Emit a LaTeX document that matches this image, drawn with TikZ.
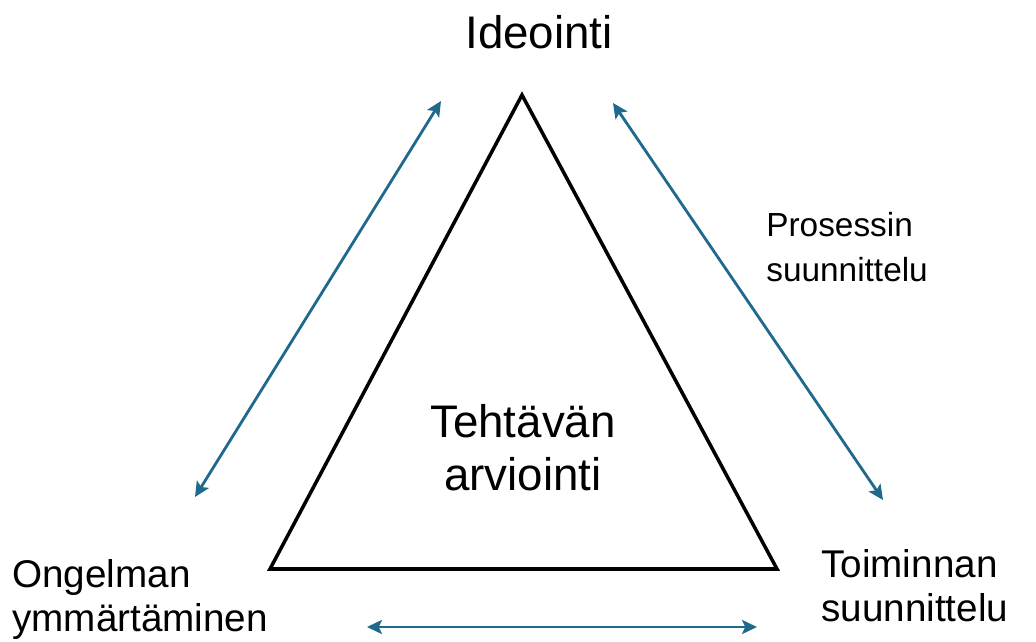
\documentclass[tikz,border=0pt]{standalone}
\usepackage{fontspec}
\setmainfont{Liberation Sans}
\usetikzlibrary{arrows.meta}
\definecolor{arrowblue}{RGB}{31,106,140}

\begin{document}
\begin{tikzpicture}[x=0.02cm, y=-0.02cm,
		tri/.style={line width=2pt},
		twoway/.style={arrowblue, line width=1.6pt, {Stealth[length=8.5pt, width=8pt, inset=1.8pt]}-{Stealth[length=8.5pt, width=8pt, inset=1.8pt]}},
		bigtext/.style={font=\fontsize{26}{30}\selectfont, inner sep=0pt},
		midtext/.style={font=\fontsize{22}{25}\selectfont, inner sep=0pt, align=left, anchor=base west},
		smalltext/.style={font=\fontsize{19}{26}\selectfont, inner sep=0pt, align=left, anchor=base west}]
		\useasboundingbox (0,0) rectangle (1036,642);
		
		% triangle
		\coordinate (top) at (522,95);
		\coordinate (left) at (270,569);
		\coordinate (right) at (777,569);
		\draw[tri] (top) -- (left) -- (right) -- cycle;
		
		% labels (base = last line)
		\node[bigtext, anchor=base] (idea) at (539,49) {Ideointi};
		\node[bigtext, align=center, anchor=base] (task) at (523,490) {Tehtävän\\arviointi};
		\node[midtext] (problem) at (12,631) {Ongelman\\ymmärtäminen};
		\node[midtext] (action) at (821,621) {Toiminnan\\suunnittelu};
		\node[smalltext] (process) at (766,282) {Prosessin\\suunnittelu};
		
		% arrow ends
		\coordinate (ideaL) at (441,101);
		\coordinate (problemU) at (195,497);
		\coordinate (ideaR) at (613,103);
		\coordinate (actionU) at (883,500);
		\coordinate (problemR) at (367,627);
		\coordinate (actionL) at (757,627);
		
		\draw[twoway] (problemU) -- (ideaL);
		\draw[twoway] (ideaR) -- (actionU);
		\draw[twoway] (problemR) -- (actionL);
	\end{tikzpicture}
\end{document}
